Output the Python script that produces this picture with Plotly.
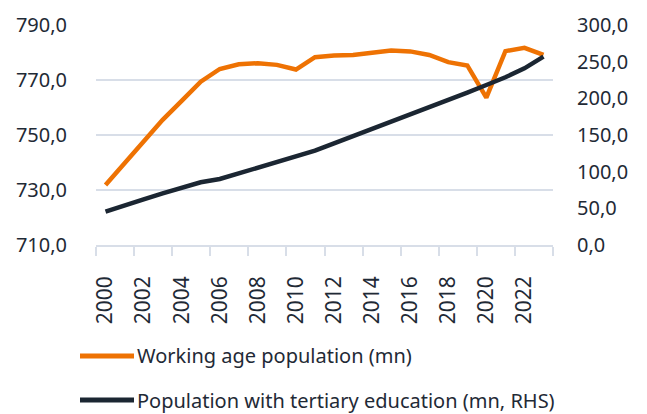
import plotly.graph_objects as go

years = list(range(2000, 2024))
working_age = [731.8, 739.7, 747.6, 755.5, 762.4, 769.4, 774.0, 775.7, 776.1, 775.5,
               773.8, 778.3, 778.9, 779.1, 779.9, 780.7, 780.4, 779.1, 776.5, 775.3,
               763.6, 780.5, 781.7, 779.1]
tertiary = [45.4, 54.5, 62.3, 70.5, 78.7, 85.5, 90.0, 97.7, 105.4, 112.2,
            119.6, 128.6, 138.7, 148.6, 157.2, 166.8, 177.3, 187.7, 197.7, 207.7,
            218.2, 228.7, 240.9, 256.8]
x_tick_labels = [str(y) for y in range(2000, 2024, 2)]
left_ticks = [710, 730, 750, 770, 790]
right_ticks = [0, 50, 100, 150, 200, 250, 300]
series_names = ["Working age population (mn)",
                "Population with tertiary education (mn, RHS)"]

ORANGE = "#ee7203"
DARK = "#1b2632"
GRID = "#d8dee8"
TEXT = "#1f2a36"
FONT = "Noto Sans"

# the page body adds an 8px offset; compensate in the layout
OFF = 8
W, H = 647, 414
L, T = 96 - OFF, 25 - OFF
pw, ph = 457, 220
R, B = W - L - pw, H - T - ph

fig = go.Figure()
fig.add_trace(go.Scatter(x=years, y=working_age, name=series_names[0],
                         mode="lines", line=dict(color=ORANGE, width=4.5),
                         yaxis="y", showlegend=False))
fig.add_trace(go.Scatter(x=years, y=tertiary, name=series_names[1],
                         mode="lines", line=dict(color=DARK, width=4.5),
                         yaxis="y2", showlegend=False))

# manual legend (paper coordinates derived from target screen pixels)
def px_x(px):
    return (px - OFF - L) / pw

def px_y(py):
    return (T + ph - (py - OFF)) / ph

for name, color, row_y in [(series_names[0], ORANGE, 356), (series_names[1], DARK, 400)]:
    fig.add_shape(type="line", xref="paper", yref="paper",
                  x0=px_x(80), x1=px_x(134), y0=px_y(row_y), y1=px_y(row_y),
                  line=dict(color=color, width=5))
    fig.add_annotation(xref="paper", yref="paper", x=px_x(135), y=px_y(row_y),
                       xanchor="left", yanchor="middle", text=name, showarrow=False,
                       font=dict(size=20, color=TEXT, family=FONT))

fig.update_layout(
    width=W, height=H,
    margin=dict(l=L, r=R, t=T, b=B),
    paper_bgcolor="white", plot_bgcolor="white",
    separators=",.",
    font=dict(family=FONT, size=20, color=TEXT),
    showlegend=False,
    xaxis=dict(type="linear", range=[1999.5, 2023.5], automargin=False,
               tickvals=[int(t) for t in x_tick_labels], ticktext=x_tick_labels,
               tickangle=-90, ticks="", showgrid=False, zeroline=False,
               showline=True, linecolor=GRID, linewidth=1.5,
               ticklabelstandoff=21, tickfont=dict(size=21),
               minor=dict(tickvals=[y - 0.5 for y in range(2000, 2025, 2)],
                          ticks="outside", ticklen=9, tickcolor=GRID, tickwidth=1.5,
                          showgrid=False)),
    yaxis=dict(range=[710, 790], tickvals=left_ticks, tickformat=".1f", automargin=False,
               showgrid=True, gridcolor=GRID, gridwidth=1.5, zeroline=False,
               ticks="", ticklabelstandoff=28),
    yaxis2=dict(range=[0, 300], tickvals=right_ticks, tickformat=".1f", automargin=False,
                overlaying="y", side="right", showgrid=False, zeroline=False,
                ticks="", ticklabelstandoff=23),
)

fig.write_html("out.html")
